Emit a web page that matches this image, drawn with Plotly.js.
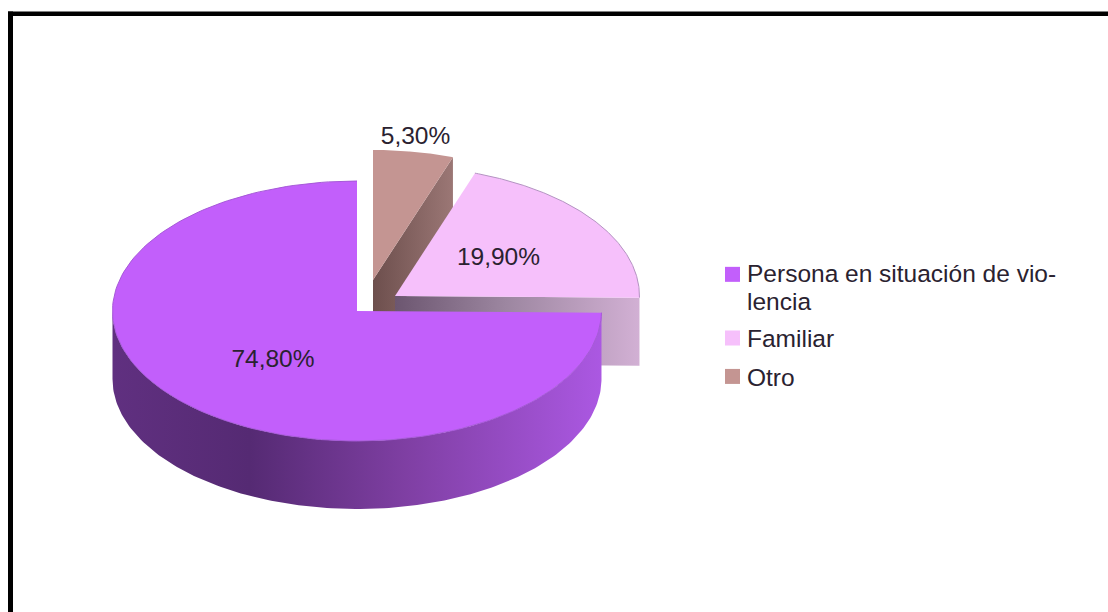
<!DOCTYPE html>
<html><head><meta charset="utf-8">
<script src="https://cdn.plot.ly/plotly-3.0.1.min.js"></script>
<style>html,body{margin:0;padding:0;background:#fff}#c{width:1108px;height:612px}</style>
</head><body><div id="c"></div>
<script>
// Data
const categories = ['Persona en situación de vio-<br>lencia', 'Familiar', 'Otro'];
const percents = [74.8, 19.9, 5.3];
const valueLabels = ['74,80%', '19,90%', '5,30%'];

// Styles
const topColors = ['#c25ffb', '#f6c0fb', '#c49592'];
const FONT = 'Liberation Sans, Arial, sans-serif';
const TEXT = '#2a2230';
const RX = 244.5, RY = 130, DEPTH = 68;
const centers = [[357, 311], [395, 296], [373, 280]];
const labelPos = [[273, 361], [498.5, 259], [415.5, 138]];

// Start/end angle of each slice, running counter-clockwise from north
let acc = 90;
const spans = percents.map(p => { const s = [acc, acc + p * 3.6]; acc = s[1]; return s; });

function pt(i, deg, dz) {
  const t = deg * Math.PI / 180;
  return [centers[i][0] + RX * Math.cos(t), centers[i][1] - RY * Math.sin(t) + (dz || 0)];
}
function arc(i, a, b, dz) {
  const out = [], n = 160;
  for (let k = 0; k <= n; k++) out.push(pt(i, a + (b - a) * k / n, dz));
  return out;
}
function poly(points, extra) {
  return Object.assign({
    type: 'scatter', mode: 'lines', x: points.map(p => p[0]), y: points.map(p => p[1]),
    fill: 'toself', line: {width: 0}, showlegend: false, hoverinfo: 'skip'
  }, extra);
}
function sliceTop(i) {
  const c = centers[i];
  return poly([c].concat(arc(i, spans[i][0], spans[i][1])).concat([c]), {fillcolor: topColors[i]});
}
function rim(i, color) {
  const a = arc(i, spans[i][0], spans[i][1]);
  return {type: 'scatter', mode: 'lines', x: a.map(p => p[0]), y: a.map(p => p[1]),
    line: {width: 1, color: color}, showlegend: false, hoverinfo: 'skip'};
}
function cutFace(i, deg, scale) {
  const c = centers[i], e = pt(i, deg);
  return poly([c, e, [e[0], e[1] + DEPTH], [c[0], c[1] + DEPTH], c],
    {fillcolor: scale[0][1], fillgradient: {type: 'horizontal', colorscale: scale}});
}

const otroFace = cutFace(2, spans[2][0], [[0, '#6d4f4d'], [1, '#9b7775']]);
const famFace = cutFace(1, spans[1][0], [[0, '#6c5670'], [0.45, '#9c86a0'], [1, '#d2b0d4']]);

const mainWallTop = arc(0, 180, spans[0][1]);
const mainWallBot = arc(0, spans[0][1], 180, DEPTH);
const mainWall = poly(mainWallTop.concat(mainWallBot), {
  fillcolor: '#7c3c9f',
  fillgradient: {type: 'horizontal', colorscale: [[0, '#603080'], [0.28, '#552a73'], [0.6, '#7f3fa3'], [1, '#ab58e2']]}
});

const labels = {
  type: 'scatter', mode: 'text', x: labelPos.map(p => p[0]), y: labelPos.map(p => p[1]),
  text: valueLabels, textposition: 'middle center',
  textfont: {family: FONT, size: 24.5, color: TEXT}, showlegend: false, hoverinfo: 'skip'
};

const legendKeys = ['legend', 'legend2', 'legend3'];
const legendTraces = categories.map((name, i) => ({
  type: 'scatter', mode: 'markers', x: [null], y: [null], name: name, legend: legendKeys[i],
  marker: {symbol: 'square', size: 15, color: topColors[i]}
}));

const W = 1108, H = 612;
function legendAt(px, py) {
  return {x: px / W, y: 1 - py / H, xanchor: 'left', yanchor: 'top', bgcolor: 'rgba(0,0,0,0)',
    borderwidth: 0, itemwidth: 30, indentation: -5, traceorder: 'normal',
    font: {family: FONT, size: 24.5, color: TEXT}};
}

const data = [otroFace, sliceTop(2), famFace, sliceTop(1), rim(1, '#b493c2'), mainWall, sliceTop(0), rim(0, '#a659d8'), labels].concat(legendTraces);

const layout = {
  width: W, height: H, margin: {l: 0, r: 0, t: 0, b: 0},
  paper_bgcolor: '#fff', plot_bgcolor: '#fff', showlegend: true,
  xaxis: {range: [0, W], visible: false, fixedrange: true},
  yaxis: {range: [H, 0], visible: false, fixedrange: true},
  legend: legendAt(712, 250), legend2: legendAt(712, 315.5), legend3: legendAt(712, 354),
  shapes: [
    {type: 'line', xref: 'x', yref: 'y', x0: 10.5, x1: 10.5, y0: 11.5, y1: 612, line: {color: '#000', width: 5}},
    {type: 'line', xref: 'x', yref: 'y', x0: 8, x1: 1108, y0: 13.8, y1: 13.8, line: {color: '#000', width: 4.6}}
  ]
};
Plotly.newPlot('c', data, layout, {staticPlot: true, displayModeBar: false}).then(() => {
  // Legend fine-tuning: tighter wrap of the long entry, swatches nearer their text
  document.querySelectorAll('.legendtext tspan.line').forEach((t, k) => { if (k === 1) t.setAttribute('dy', '1.14em'); });
  document.querySelectorAll('.legendsymbols').forEach((s, k) => {
    s.setAttribute('transform', 'translate(5.5,' + (k === 0 ? -14 : 0) + ')');
  });
});
</script></body></html>
